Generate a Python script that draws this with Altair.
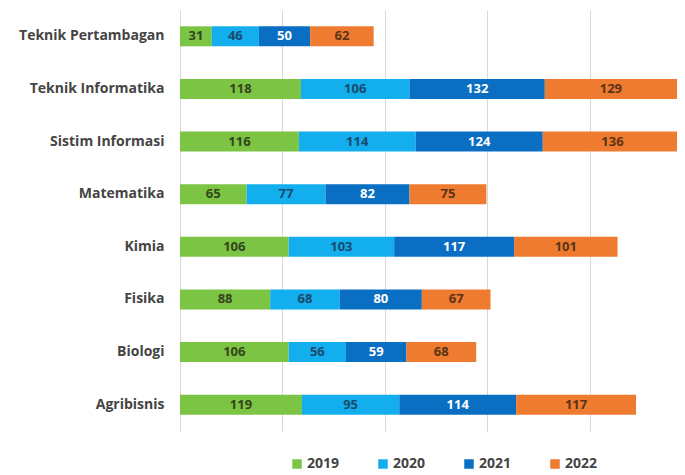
import altair as alt
import pandas as pd

categories = ["Teknik Pertambagan", "Teknik Informatika", "Sistim Informasi", "Matematika",
              "Kimia", "Fisika", "Biologi", "Agribisnis"]
years = ["2019", "2020", "2021", "2022"]
v2019 = [31, 118, 116, 65, 106, 88, 106, 119]
v2020 = [46, 106, 114, 77, 103, 68, 56, 95]
v2021 = [50, 132, 124, 82, 117, 80, 59, 114]
v2022 = [62, 129, 136, 75, 101, 67, 68, 117]
bar_colors = ["#7cc444", "#12aeed", "#0a6fc2", "#ef7b30"]
text_colors = ["#34441c", "#1a4a6c", "#ffffff", "#5a3414"]

rows = []
for i, yr in enumerate(years):
    vals = [v2019, v2020, v2021, v2022][i]
    for c, v in zip(categories, vals):
        rows.append({"cat": c, "year": yr, "order": i, "value": v})
df = pd.DataFrame(rows)

base = alt.Chart(df).transform_stack(
    stack="value", groupby=["cat"], as_=["x0", "x1"], sort=[alt.SortField("order")]
).transform_calculate(mid="(datum.x0 + datum.x1) / 2")

yenc = alt.Y("cat:N", sort=categories, title=None,
             scale=alt.Scale(paddingInner=0, paddingOuter=0),
             axis=alt.Axis(domain=False, ticks=False, labelPadding=16, labelFont="Open Sans",
                           labelFontWeight="bold", labelFontSize=14, labelColor="#444444"))

bars = base.mark_bar(size=20).encode(
    y=yenc,
    x=alt.X("x0:Q", title=None, scale=alt.Scale(domain=[0, 485], nice=False),
            axis=alt.Axis(values=[0, 100, 200, 300, 400], grid=True, gridColor="#d9d9d9",
                          labels=False, ticks=False, domain=False)),
    x2="x1:Q",
    color=alt.Color("year:N", scale=alt.Scale(domain=years, range=bar_colors),
                    legend=alt.Legend(title=None, orient="none", direction="horizontal",
                                      legendX=110, legendY=447, symbolType="square",
                                      symbolSize=90, symbolStrokeWidth=0,
                                      labelFont="Open Sans", labelFontWeight="bold",
                                      labelFontSize=14, labelColor="#444444",
                                      columnPadding=36, labelOffset=3)),
)

texts = base.mark_text(font="Open Sans", fontWeight="bold", fontSize=13).encode(
    y=alt.Y("cat:N", sort=categories),
    x=alt.X("mid:Q"),
    text=alt.Text("value:Q"),
    color=alt.Color("year:N", scale=alt.Scale(domain=years, range=text_colors), legend=None),
)

chart = alt.layer(bars, texts).resolve_scale(color="independent").properties(
    width=497, height=421,
    autosize=alt.AutoSizeParams(type="none"),
    padding={"left": 172, "top": 2, "right": 0, "bottom": 42},
).configure_view(stroke=None)

chart.save("out.html", embed_options={"renderer": "svg", "actions": False})
